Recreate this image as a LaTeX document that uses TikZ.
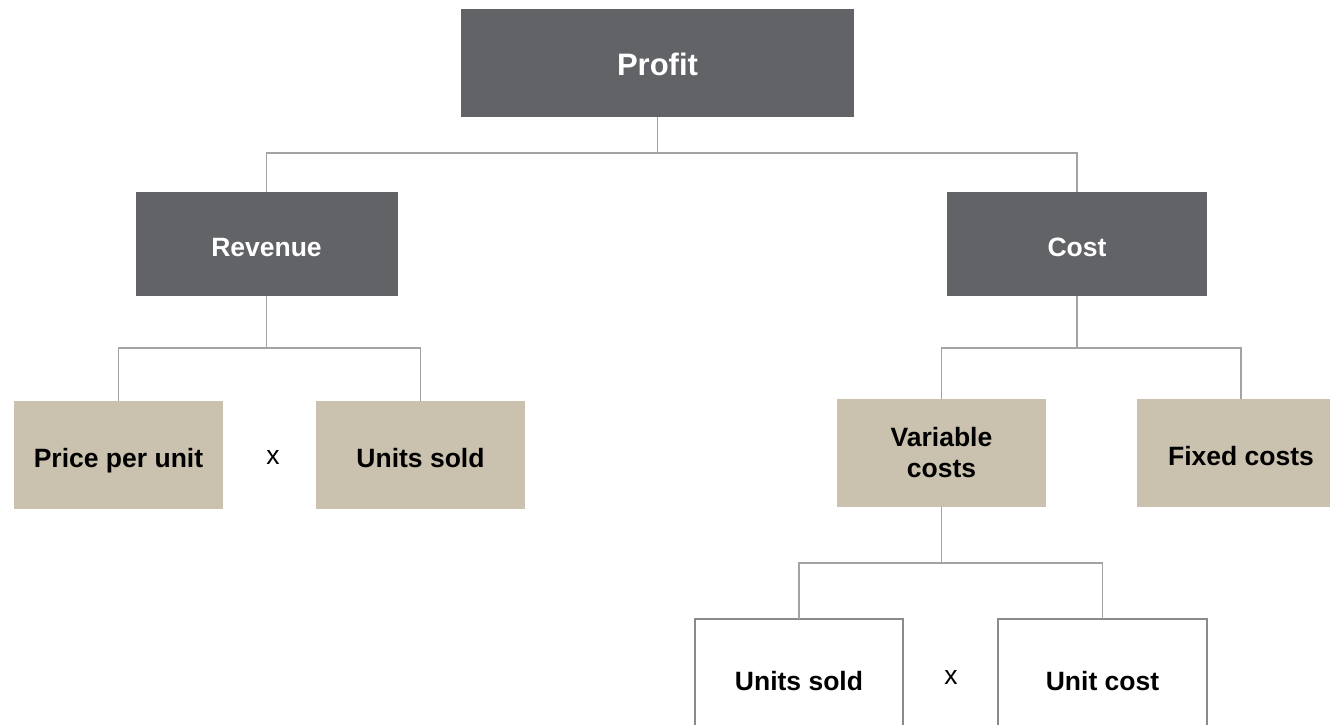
\documentclass[tikz,border=0pt]{standalone}
\usepackage{fontspec}
\setmainfont{Liberation Sans}
\definecolor{headgray}{HTML}{626367}
\definecolor{sand}{HTML}{CAC2AE}
\definecolor{wire}{HTML}{A3A3A3}
\definecolor{rim}{HTML}{8A8A8A}
\tikzset{
  every node/.style={inner sep=0pt, outer sep=0pt, align=center},
  topbox/.style={fill=headgray, text=white, font=\bfseries\fontsize{31}{36}\selectfont,
                 minimum width=393pt, minimum height=108pt},
  midbox/.style={fill=headgray, text=white, font=\bfseries\fontsize{26.5}{31}\selectfont,
                 minimum width=262pt, minimum height=104pt},
  leafbox/.style={fill=sand, text=black, font=\bfseries\fontsize{26.5}{31}\selectfont,
                  minimum width=209pt, minimum height=108pt},
  openbox/.style={draw=rim, line width=2.2pt, fill=white, text=black,
                  font=\bfseries\fontsize{26.5}{31}\selectfont,
                  minimum width=208pt, minimum height=118pt},
  oneline/.style={text height=25pt, text depth=0pt},
  timesmark/.style={font=\fontsize{26.5}{31}\selectfont, text=black},
  link/.style={draw=wire, line width=1.3pt}
}
\begin{document}
\begin{tikzpicture}[x=1pt, y=-1pt]
  \useasboundingbox (0,0) rectangle (1330,725);
  \clip (0,0) rectangle (1330,725);

  % tree levels
  \node[topbox, oneline]  (profit)  at (657.5,63)  {Profit};
  \node[midbox, oneline]  (revenue) at (266.5,244) {Revenue};
  \node[midbox, oneline, minimum width=260pt] (cost) at (1077,244) {Cost};

  \node[leafbox, oneline] (price)  at (118.5,454.5) {Price per unit};
  \node[leafbox, oneline] (unitsA) at (420.5,454.5) {Units sold};
  \node[leafbox] (var)    at (941.5,453)   {Variable\\costs};
  \node[leafbox, oneline, minimum width=208pt] (fixed) at (1241,453) {Fixed costs};

  \node[openbox, oneline] (unitsB)   at (799,678)    {Units sold};
  \node[openbox, oneline, minimum width=209pt] (unitcost) at (1102.5,678) {Unit cost};

  \node[timesmark] (xA) at (273,457) {x};
  \node[timesmark] (xB) at (951,677) {x};

  % connectors
  \draw[link] (profit.south) -- ++(0,36) coordinate (busA);
  \draw[link] (revenue.north) |- (busA) -| (cost.north);

  \draw[link] (revenue.south) -- ++(0,52) coordinate (busB);
  \draw[link] (price.north) |- (busB) -| (unitsA.north);

  \draw[link] (cost.south) -- ++(0,52) coordinate (busC);
  \draw[link] (var.north) |- (busC) -| (fixed.north);

  \draw[link] (var.south) -- ++(0,56) coordinate (busD);
  \draw[link] (unitsB.north) |- (busD) -| (unitcost.north);
\end{tikzpicture}
\end{document}
